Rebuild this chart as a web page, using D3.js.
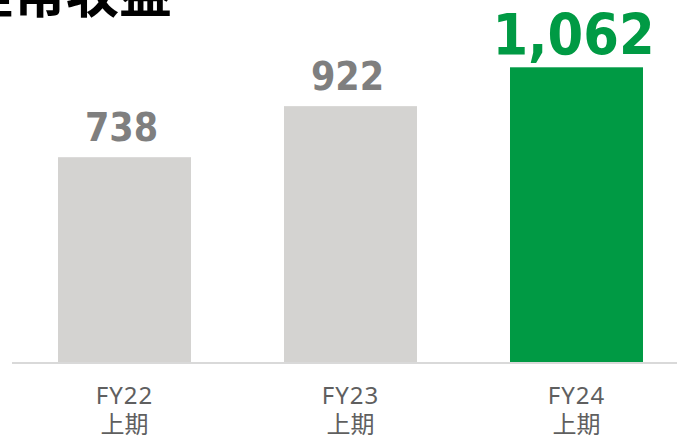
<!DOCTYPE html>
<html><head><meta charset="utf-8">
<script src="https://cdn.jsdelivr.net/npm/d3@7"></script>
<style>body{margin:0;background:#fff;overflow:hidden}</style>
</head><body>
<svg id="c" width="677" height="436"></svg>
<script>
const title = "経常収益";
const categories = ["FY22", "FY23", "FY24"];
const periods = ["上期", "上期", "上期"];
const values = [738, 922, 1062];
const highlight = [false, false, true];

const svg = d3.select("#c");
const base = 362;
const y = d3.scaleLinear().domain([0, 1100]).range([base, base - 1100 * 0.2775]);
const x = d3.scaleBand().domain(categories).range([11.5, 689.5]).paddingInner(0.4115).paddingOuter(0.2058);

const data = categories.map((c, i) => ({c, p: periods[i], v: values[i], h: highlight[i]}));

svg.append("text").text(title)
  .attr("x", 172).attr("y", 13).attr("text-anchor", "end")
  .attr("font-family", "'Noto Sans CJK JP'").attr("font-weight", 700)
  .attr("font-size", 53).attr("fill", "#000");

svg.selectAll("rect.bar").data(data).join("rect")
  .attr("x", d => x(d.c)).attr("width", x.bandwidth())
  .attr("y", d => y(d.v)).attr("height", d => y(0) - y(d.v))
  .attr("fill", d => d.h ? "#009a44" : "#d4d3d1");

svg.append("line").attr("x1", 12).attr("x2", 677).attr("y1", base + 1).attr("y2", base + 1)
  .attr("stroke", "#d9d9d9").attr("stroke-width", 2);

svg.selectAll("text.val").data(data).join("text").attr("class", "val")
  .text(d => d3.format(",")(d.v))
  .attr("x", d => x(d.c) + x.bandwidth() / 2 - 3)
  .attr("y", d => y(d.v) - (d.h ? 12 : 16))
  .attr("text-anchor", "middle")
  .attr("font-family", "'DejaVu Sans Condensed'").attr("font-weight", "bold")
  .attr("font-size", d => d.h ? 57 : 39)
  .attr("fill", d => d.h ? "#009a44" : "#7f7f7f");

const lab = svg.selectAll("g.lab").data(data).join("g").attr("class", "lab")
  .attr("transform", d => `translate(${x(d.c) + x.bandwidth() / 2},0)`);
lab.append("text").text(d => d.c).attr("y", 403.5).attr("text-anchor", "middle")
  .attr("letter-spacing", 1)
  .attr("font-family", "'Noto Sans', 'Noto Sans CJK JP'").attr("font-size", 24).attr("fill", "#5f5f5f");
lab.append("text").text(d => d.p).attr("y", 433).attr("text-anchor", "middle")
  .attr("font-family", "'Noto Sans CJK JP'").attr("font-size", 24).attr("fill", "#5f5f5f");
</script>
</body></html>
